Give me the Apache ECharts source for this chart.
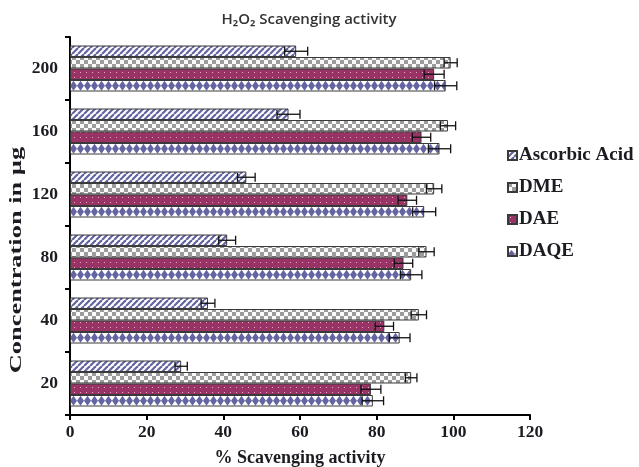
<!DOCTYPE html>
<html>
<head>
<meta charset="utf-8">
<script src="https://cdn.jsdelivr.net/npm/echarts@6/dist/echarts.min.js"></script>
<style>
  html, body { margin: 0; padding: 0; background: #fff; }
  #chart { width: 639px; height: 467px; }
</style>
</head>
<body>
<div id="chart"></div>
<script>
/* -------------------------------------------------------------------------- */
/*                         H2O2 Scavenging activity                          */
/* -------------------------------------------------------------------------- */

const categories = ['20', '40', '80', '120', '160', '200'];
const xTicks = [0, 20, 40, 60, 80, 100, 120];

const ascorbic = [29, 36, 41, 46, 57, 59];
const ascorbicErr = [1.6, 1.8, 2.2, 2.3, 3, 3];
const dme = [89, 91, 93, 95, 98.6, 99.3];
const dmeErr = [1.5, 2, 2, 2, 2, 1.7];
const dae = [78.5, 82, 87, 88, 91.7, 95];
const daeErr = [2.6, 2.4, 2.4, 2.4, 2.4, 2.6];
const daqe = [79, 86, 89, 92.4, 96.4, 98];
const daqeErr = [2.8, 2.7, 2.8, 3, 2.9, 2.9];

const seriesNames = ['Ascorbic Acid', 'DME', 'DAE', 'DAQE'];

const BAR_W = 11.5;
const GRID_TOP = 37;
const BAND = 63;

const serifFont = '"Liberation Serif", "DejaVu Serif", serif';
const textColor = '#1b1b22';

// canvas tiles for the hatched fills
const makePattern = (w, h, draw) => {
  const c = document.createElement('canvas');
  c.width = w;
  c.height = h;
  const ctx = c.getContext('2d');
  draw(ctx, w, h);
  return { image: c, repeat: 'repeat' };
};

const stripes = makePattern(6, 6, (ctx, w, h) => {
  ctx.fillStyle = '#fff';
  ctx.fillRect(0, 0, w, h);
  ctx.strokeStyle = '#6464a2';
  ctx.lineWidth = 2.2;
  [-6, 0, 6].forEach(o => {
    ctx.beginPath();
    ctx.moveTo(o, h);
    ctx.lineTo(o + w, 0);
    ctx.stroke();
  });
});

const checker = makePattern(8, 8, (ctx) => {
  ctx.fillStyle = '#fafafa';
  ctx.fillRect(0, 0, 8, 8);
  ctx.fillStyle = '#9c9c9c';
  ctx.fillRect(0, 0, 4, 4);
  ctx.fillRect(4, 4, 4, 4);
});

const dots = makePattern(6, 5, (ctx) => {
  ctx.fillStyle = '#993366';
  ctx.fillRect(0, 0, 6, 5);
  ctx.fillStyle = 'rgba(255,210,230,0.75)';
  ctx.fillRect(2, 2, 1, 1);
});

// diamonds: one row per bar, tile height = category band so rows line up
const diamondRow = (((GRID_TOP + 8.5 + 3 * BAR_W + BAR_W / 2) % BAND) + BAND) % BAND;
const diamonds = makePattern(7, BAND, (ctx, w, h) => {
  ctx.fillStyle = '#fff';
  ctx.fillRect(0, 0, w, h);
  ctx.fillStyle = '#6464a2';
  ctx.beginPath();
  ctx.moveTo(3.5, diamondRow - 5);
  ctx.lineTo(7, diamondRow);
  ctx.lineTo(3.5, diamondRow + 5);
  ctx.lineTo(0, diamondRow);
  ctx.closePath();
  ctx.fill();
});

const diamondsSmall = makePattern(7, 9, (ctx) => {
  ctx.fillStyle = '#fff';
  ctx.fillRect(0, 0, 7, 9);
  ctx.fillStyle = '#6464a2';
  ctx.beginPath();
  ctx.moveTo(3.5, 3);
  ctx.lineTo(7, 7);
  ctx.lineTo(3.5, 11);
  ctx.lineTo(0, 7);
  ctx.closePath();
  ctx.fill();
});

const fills = [stripes, checker, dots, diamonds];
const values = [ascorbic, dme, dae, daqe];
const errors = [ascorbicErr, dmeErr, daeErr, daqeErr];

const errData = [];
values.forEach((vals, s) => {
  vals.forEach((v, i) => errData.push([v, i, errors[s][i], s]));
});

const renderError = (params, api) => {
  const v = api.value(0);
  const c = api.value(1);
  const e = api.value(2);
  const s = api.value(3);
  const center = api.coord([0, c])[1];
  const y = center - 2 * BAR_W + s * BAR_W + BAR_W / 2;
  const x1 = api.coord([v - e, c])[0];
  const x2 = api.coord([v + e, c])[0];
  const style = { stroke: '#111', lineWidth: 1.3 };
  return {
    type: 'group',
    children: [
      { type: 'line', shape: { x1, y1: y, x2, y2: y }, style },
      { type: 'line', shape: { x1, y1: y - 4.5, x2: x1, y2: y + 4.5 }, style },
      { type: 'line', shape: { x1: x2, y1: y - 4.5, x2, y2: y + 4.5 }, style },
    ],
  };
};

const chart = echarts.init(document.getElementById('chart'));

chart.setOption({
  animation: false,
  title: {
    text: 'H₂O₂ Scavenging activity',
    left: 304,
    top: 7,
    textAlign: 'center',
    textStyle: {
      fontFamily: '"Open Sans", "Noto Sans", sans-serif',
      fontSize: 15,
      fontWeight: 600,
      color: '#333',
    },
  },
  legend: {
    orient: 'vertical',
    left: 507,
    top: 146,
    padding: 0,
    itemGap: 13,
    itemWidth: 9,
    itemHeight: 9,
    icon: 'rect',
    data: [
      { name: 'Ascorbic Acid' },
      { name: 'DME' },
      { name: 'DAE' },
      { name: 'DAQE', itemStyle: { color: diamondsSmall } },
    ],
    textStyle: {
      fontFamily: serifFont,
      fontWeight: 'bold',
      fontSize: 19,
      color: textColor,
      padding: [0, 0, 0, -3],
    },
  },
  grid: {
    left: 70,
    right: 109,
    top: GRID_TOP,
    bottom: 52,
    containLabel: false,
  },
  xAxis: {
    type: 'value',
    min: xTicks[0],
    max: xTicks[xTicks.length - 1],
    interval: 20,
    splitLine: { show: false },
    axisLine: { show: true, lineStyle: { color: '#000', width: 2 } },
    axisTick: { show: true, length: 5, lineStyle: { color: '#000', width: 2 } },
    axisLabel: {
      margin: 8,
      fontFamily: serifFont,
      fontWeight: 'bold',
      fontSize: 17.5,
      color: textColor,
    },
  },
  yAxis: {
    type: 'category',
    data: categories,
    axisLine: { show: true, lineStyle: { color: '#000', width: 2 } },
    axisTick: { show: true, length: 5, lineStyle: { color: '#000', width: 2 } },
    axisLabel: {
      margin: 12,
      fontFamily: serifFont,
      fontWeight: 'bold',
      fontSize: 17.5,
      color: textColor,
    },
  },
  graphic: [
    {
      type: 'text',
      x: 17,
      y: 260,
      rotation: Math.PI / 2,
      scaleX: 1.6,
      style: {
        text: 'Concentration in µg',
        fontFamily: serifFont,
        fontWeight: 'bold',
        fontSize: 16.5,
        fill: textColor,
        align: 'center',
        verticalAlign: 'middle',
      },
    },
    {
      type: 'text',
      x: 300,
      y: 458,
      style: {
        text: '% Scavenging activity',
        fontFamily: serifFont,
        fontWeight: 'bold',
        fontSize: 18,
        fill: textColor,
        align: 'center',
        verticalAlign: 'middle',
      },
    },
  ],
  series: [
    ...seriesNames.map((name, s) => ({
      name,
      type: 'bar',
      data: values[s],
      barWidth: BAR_W,
      barGap: '0%',
      itemStyle: {
        color: fills[s],
        borderColor: '#3a3a3a',
        borderWidth: 1,
      },
    })),
    {
      type: 'custom',
      name: 'errors',
      data: errData,
      encode: { x: 0, y: 1 },
      renderItem: renderError,
      z: 5,
      silent: true,
    },
  ],
});
</script>
</body>
</html>
